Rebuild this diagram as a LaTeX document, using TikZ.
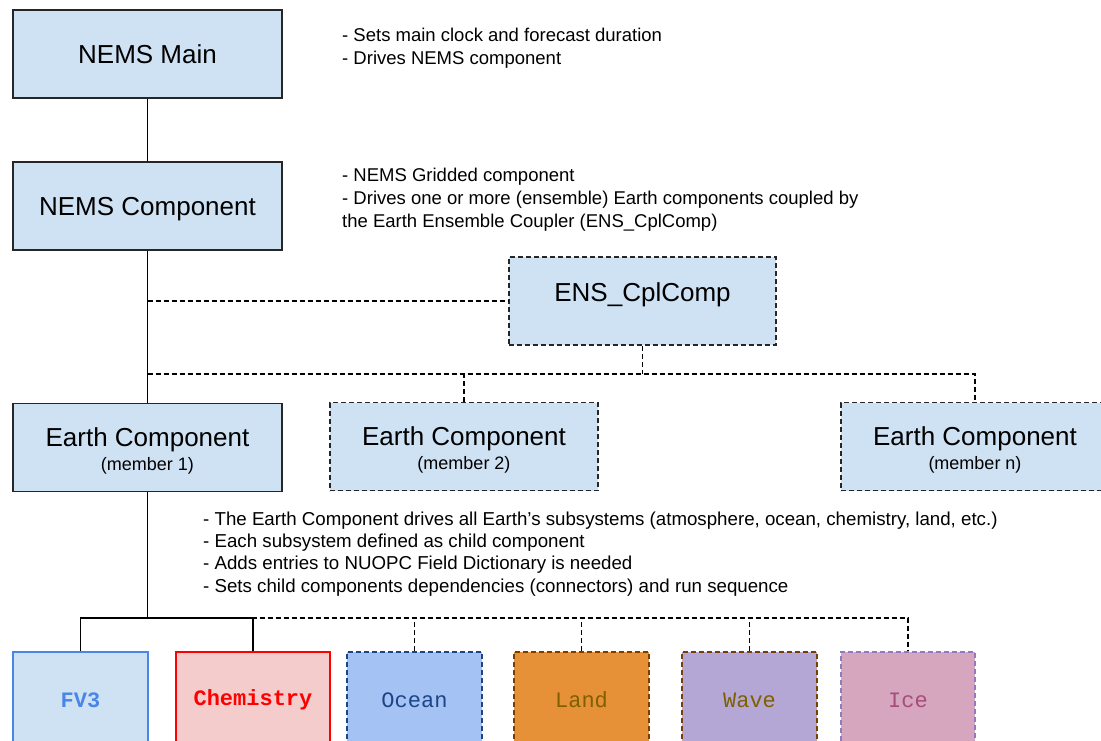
\documentclass[tikz,border=0pt]{standalone}
\usepackage{fontspec}
\setmainfont{Liberation Sans}
\newfontfamily\monof{Liberation Mono}
\definecolor{boxblue}{HTML}{CFE2F3}
\definecolor{fvline}{HTML}{4A86E8}
\definecolor{chemfill}{HTML}{F4CCCC}
\definecolor{chemline}{HTML}{FF0000}
\definecolor{oceanfill}{HTML}{A4C2F4}
\definecolor{oceanline}{HTML}{1C4587}
\definecolor{landfill}{HTML}{E69138}
\definecolor{brownline}{HTML}{783F04}
\definecolor{olivetext}{HTML}{7F6000}
\definecolor{wavefill}{HTML}{B4A7D6}
\definecolor{icefill}{HTML}{D5A6BD}
\definecolor{iceline}{HTML}{8E7CC3}
\definecolor{icetext}{HTML}{A64D79}
\tikzset{
  box/.style={draw=black!85, fill=boxblue, line width=1.6pt, inner sep=0pt,
    minimum width=269pt, minimum height=88pt, align=center,
    font=\fontsize{26}{24}\selectfont},
  dbox/.style={box, dash pattern=on 5pt off 3pt},
  conn/.style={line width=1.6pt, black},
  dconn/.style={conn, dash pattern=on 5pt off 3pt},
  kid/.style={line width=1.6pt, inner sep=0pt, minimum width=135pt,
    minimum height=96pt, font=\monof\fontsize{22}{24}\selectfont},
  desc/.style={anchor=north west, align=left, inner sep=0pt,
    font=\fontsize{18.5}{23}\selectfont},
}
\begin{document}
\begin{tikzpicture}[x=1pt,y=-1pt]
\useasboundingbox (0,0) rectangle (1101,740);
\clip (0,0) rectangle (1101,740);
\fill[white] (0,0) rectangle (1101,740);

\node[box] (main) at (147.5,54) {NEMS Main};
\node[box] (comp) at (147.5,206) {\rule{0pt}{25pt}NEMS Component};
\node[dbox, minimum width=267pt, text height=20pt, text depth=20pt] (ens) at (642.5,301) {ENS\_CplComp};
\node[box] (e1) at (147.5,447.5) {\rule{0pt}{25pt}Earth Component\\{\fontsize{18}{24}\selectfont (member 1)}};
\node[dbox, minimum width=268pt] (e2) at (464,446.5) {\rule{0pt}{25pt}Earth Component\\{\fontsize{18}{24}\selectfont (member 2)}};
\node[dbox, minimum width=268pt] (en) at (975,446.5) {\rule{0pt}{25pt}Earth Component\\{\fontsize{18}{24}\selectfont (member n)}};

\node[kid, draw=fvline, fill=boxblue, text=fvline, font=\monof\bfseries\fontsize{22}{24}\selectfont] (fv3) at (80.5,700) {FV3};
\node[kid, draw=chemline, fill=chemfill, text=chemline, minimum width=154pt, font=\monof\bfseries\fontsize{22}{24}\selectfont] (chem) at (253,700) {Chemistry};
\node[kid, draw=oceanline, fill=oceanfill, text=oceanline, dash pattern=on 5pt off 3pt] (ocean) at (414.5,700) {Ocean};
\node[kid, draw=brownline, fill=landfill, text=olivetext, dash pattern=on 5pt off 3pt] (land) at (581.5,700) {Land};
\node[kid, draw=brownline, fill=wavefill, text=olivetext, dash pattern=on 5pt off 3pt] (wave) at (749.5,700) {Wave};
\node[kid, draw=iceline, fill=icefill, text=icetext, minimum width=134pt, dash pattern=on 5pt off 3pt] (ice) at (908,700) {Ice};

\node[desc] (t1) at (342,27.5) {- Sets main clock and forecast duration\\- Drives NEMS component};
\node[desc] (t2) at (342,167.5) {- NEMS Gridded component\\- Drives one or more (ensemble) Earth components coupled by\\the Earth Ensemble Coupler (ENS\_CplComp)};
\node[desc, font=\fontsize{18.7}{22.3}\selectfont] (t3) at (203,511.5) {- The Earth Component drives all Earth’s subsystems (atmosphere, ocean, chemistry, land, etc.)\\- Each subsystem defined as child component\\- Adds entries to NUOPC Field Dictionary is needed\\- Sets child components dependencies (connectors) and run sequence};

\coordinate (j1) at (147.5,301);
\coordinate (j2) at (147.5,374);
\coordinate (j3) at (147.5,618);

\draw[conn] (main.south) -- (comp.north);
\draw[conn] (comp.south) -- (e1.north);
\draw[dconn] (j1) -- (ens.west);
\draw[dconn] (j2) -| (en.north);
\draw[dconn] (ens.south) -- (ens.south |- j2);
\draw[dconn] (e2.north) -- (e2.north |- j2);

\draw[conn] (e1.south) -- (j3);
\draw[conn] (fv3.north) -- (fv3.north |- j3) -- (chem.north |- j3) -- (chem.north);
\draw[dconn] (j3) -| (ice.north);
\draw[dconn] (ocean.north) -- (ocean.north |- j3);
\draw[dconn] (land.north) -- (land.north |- j3);
\draw[dconn] (wave.north) -- (wave.north |- j3);
\end{tikzpicture}
\end{document}
